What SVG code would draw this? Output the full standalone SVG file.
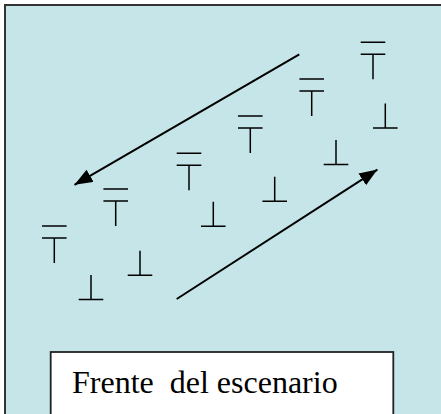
<svg xmlns="http://www.w3.org/2000/svg" width="441" height="414" viewBox="0 0 441 414">
<style>
.sym{stroke:#000;stroke-width:1.5;fill:none}
.arr{stroke:#000;stroke-width:2;fill:none}
.lbl{font-family:"Liberation Serif","Times New Roman",serif;font-size:32px;fill:#000}
</style>
<defs>
<marker id="ah" markerUnits="userSpaceOnUse" markerWidth="19" markerHeight="15" refX="18" refY="7" orient="auto">
<path d="M0,0 L18,7 L0,14 z" fill="#000"/>
</marker>
<g id="tup"><path class="sym" d="M-12.3,0 H12.3 M-12.3,12 H12.3 M0,12 V37"/></g>
<g id="tdown"><path class="sym" d="M0,0 V24.5 M-12.3,24.5 H12.3"/></g>
</defs>
<rect id="stage" x="5" y="5" width="450" height="430" fill="#C5E5E8" stroke="#333" stroke-width="2"/>
<g id="upper-row">
<use href="#tup" x="54.3" y="226"/>
<use href="#tup" x="115.7" y="189"/>
<use href="#tup" x="189" y="153.3"/>
<use href="#tup" x="250.3" y="116"/>
<use href="#tup" x="311.7" y="79"/>
<use href="#tup" x="373" y="42.3"/>
</g>
<g id="lower-row">
<use href="#tdown" x="91" y="275"/>
<use href="#tdown" x="140" y="250.7"/>
<use href="#tdown" x="213.3" y="201.7"/>
<use href="#tdown" x="274.7" y="176.7"/>
<use href="#tdown" x="336" y="140"/>
<use href="#tdown" x="385.3" y="103.5"/>
</g>
<g id="connectors">
<line class="arr" x1="299.3" y1="54.3" x2="74.5" y2="184.8" marker-end="url(#ah)"/>
<line class="arr" x1="176.7" y1="299" x2="377.4" y2="169.6" marker-end="url(#ah)"/>
</g>
<g id="front-label">
<rect x="50.7" y="352" width="342.6" height="80" fill="#fff" stroke="#222" stroke-width="1.8"/>
<text class="lbl" x="72" y="393" xml:space="preserve">Frente  del escenario</text>
</g>
</svg>
